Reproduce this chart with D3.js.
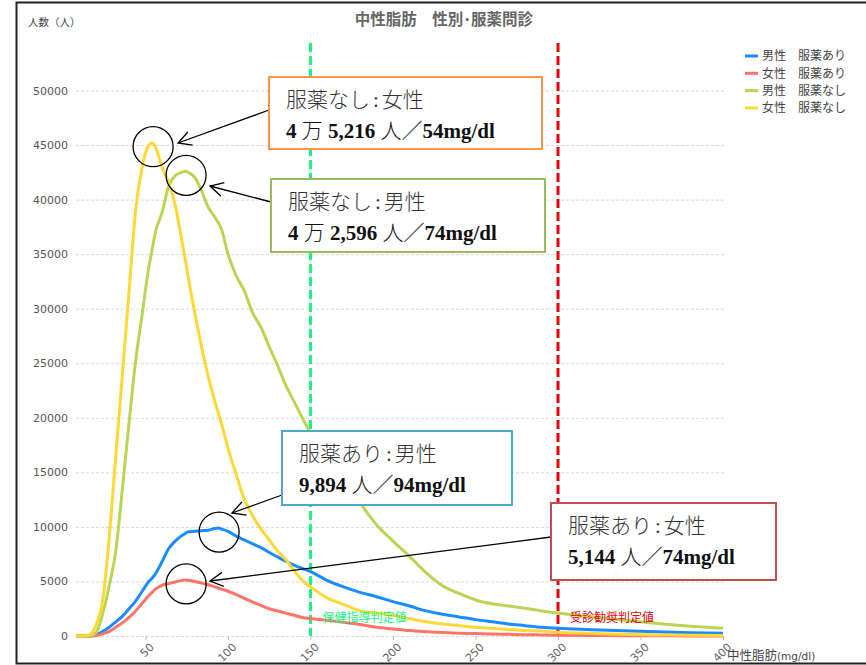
<!DOCTYPE html>
<html>
<head>
<meta charset="utf-8">
<script src="https://cdn.jsdelivr.net/npm/d3@7"></script>
<style>
  body { margin: 0; background: #fff; }
  svg { display: block; }
</style>
</head>
<body>
<div id="container"></div>
<script>
/* DATA */
// 中性脂肪 (mg/dl)
const tg = [8, 12, 16, 20, 24, 28, 32, 36, 40, 44, 48, 52, 54, 56, 60, 64, 68, 72, 74, 76,
  80, 84, 88, 92, 94, 96, 100, 105, 110, 115, 120, 125, 130, 135, 140, 145, 150,
  160, 170, 180, 190, 200, 210, 220, 230, 240, 250, 260, 270, 280, 290, 300,
  320, 340, 360, 380, 400];

// 人数 (人)
const maleMed = [0, 0, 0, 100, 400, 800, 1300, 1800, 2500, 3200, 4100, 5000, 5300, 5700, 6800, 8000, 8700, 9200, 9400, 9550,
  9600, 9650, 9700, 9850, 9894, 9800, 9600, 9150, 8800, 8450, 8100, 7650, 7250, 6850, 6500, 6200, 5900,
  5100, 4500, 4000, 3600, 3150, 2750, 2300, 2000, 1750, 1500, 1300, 1100, 950, 800, 700,
  580, 470, 380, 300, 250];

const femaleMed = [0, 0, 0, 50, 200, 400, 800, 1200, 1700, 2300, 3000, 3700, 4000, 4300, 4650, 4800, 4950, 5100, 5144, 5100,
  5000, 4850, 4700, 4500, 4400, 4300, 4100, 3800, 3450, 3100, 2800, 2500, 2300, 2100, 1900, 1700, 1600,
  1450, 1250, 1050, 800, 650, 500, 400, 320, 260, 220, 180, 150, 120, 100, 80,
  50, 30, 20, 10, 0];

const maleNoMed = [0, 0, 0, 300, 2000, 4600, 7800, 13500, 19500, 25200, 29500, 33800, 35400, 37000, 38800, 41200, 42200, 42500, 42596, 42500,
  42000, 40800, 39300, 38400, 37900, 37300, 35000, 33000, 31600, 29600, 28300, 26500, 24800, 23000, 21500, 20000, 18600,
  16400, 14400, 12200, 10200, 8700, 7300, 5800, 4600, 3900, 3300, 2950, 2750, 2550, 2300, 2100,
  1750, 1450, 1150, 900, 700];

const femaleNoMed = [0, 0, 100, 1000, 3200, 9000, 16500, 24000, 31500, 39000, 43000, 45000, 45216, 44800, 43000, 41600, 39500, 36300, 34600, 32800,
  29500, 26500, 23800, 21500, 20500, 19500, 17200, 14800, 12500, 11000, 9800, 8800, 7800, 7000, 6000, 5100, 4500,
  3500, 2900, 2300, 2100, 1900, 1600, 1300, 1100, 950, 800, 700, 600, 500, 450, 350,
  250, 150, 100, 80, 50];

const seriesNames = ["男性　服薬あり", "女性　服薬あり", "男性　服薬なし", "女性　服薬なし"];
const seriesValues = [maleMed, femaleMed, maleNoMed, femaleNoMed];

const yTicks = [0, 5000, 10000, 15000, 20000, 25000, 30000, 35000, 40000, 45000, 50000];
const xTicks = [50, 100, 150, 200, 250, 300, 350, 400];

const refValues = [150, 300];
const refLabels = ["保健指導判定値", "受診勧奨判定値"];

const calloutTitles = ["服薬なし:女性", "服薬なし:男性", "服薬あり:男性", "服薬あり:女性"];
const calloutTexts = ["4 万 5,216 人／54mg/dl", "4 万 2,596 人／74mg/dl", "9,894 人／94mg/dl", "5,144 人／74mg/dl"];
const calloutPeaks = [[54, 45216], [74, 42596], [94, 9894], [74, 5144]];

/* LAYOUT AND STYLES */
const width = 866, height = 665;
const colors = ["#1a8cff", "#ff7466", "#b8d654", "#ffd835"];
const refColors = ["#19f57f", "#e8000b"];
const boxColors = ["#f79646", "#9bbb59", "#4bacc6", "#c0504d"];
// callout boxes [x, y, w, h] and arrow start / end
const boxes = [[269, 77, 273, 72], [271, 179, 274, 73], [282, 431, 230, 74], [551, 503, 225, 77]];
const arrowFrom = [[269, 110], [271, 202], [282, 495], [551, 537]];
const arrowTo = [[178, 143], [210, 186], [232, 513], [210, 581]];

const xScale = d3.scaleLinear().domain([0, 400]).range([63, 723]);
const yScale = d3.scaleLinear().domain([0, 50000]).range([636, 90.5]);

const svg = d3.select("#container")
  .append("svg")
  .attr("width", width)
  .attr("height", height);

// frame
svg.append("rect")
  .attr("x", 16.5).attr("y", 2.5)
  .attr("width", 880).attr("height", 661)
  .attr("fill", "none")
  .attr("stroke", "#222")
  .attr("stroke-width", 2);

// title
svg.append("text")
  .attr("x", 444).attr("y", 25)
  .attr("text-anchor", "middle")
  .attr("fill", "#666")
  .style("font", "bold 15.5px 'Noto Sans CJK JP'")
  .text("中性脂肪　性別･服薬問診");

svg.append("text")
  .attr("x", 28).attr("y", 26)
  .attr("fill", "#444")
  .style("font", "10.5px 'Noto Sans CJK JP'")
  .text("人数（人）");

// y axis + grid
const gy = svg.append("g")
  .attr("transform", "translate(76,0)")
  .call(d3.axisLeft(yScale).tickValues(yTicks).tickSize(-648).tickPadding(8).tickFormat(d3.format("d")));
gy.select(".domain").remove();
gy.selectAll(".tick line")
  .attr("stroke", "#d9d9d9")
  .attr("stroke-dasharray", "3,2");
gy.selectAll(".tick text")
  .attr("fill", "#555")
  .style("font", "11px 'DejaVu Sans'");

// x axis
const gx = svg.append("g")
  .attr("transform", "translate(0,636)")
  .call(d3.axisBottom(xScale).tickValues(xTicks).tickSize(4));
gx.select(".domain").remove();
gx.selectAll(".tick line").attr("stroke", "#bbb");
gx.selectAll(".tick text")
  .attr("x", 0).attr("y", 0)
  .attr("dy", "0.35em")
  .attr("text-anchor", "end")
  .attr("transform", "translate(6,9) rotate(-45)")
  .attr("fill", "#666")
  .style("font", "11px 'DejaVu Sans'");

const xLabel = svg.append("text")
  .attr("x", 727).attr("y", 660)
  .attr("fill", "#444");
xLabel.append("tspan").style("font", "12.5px 'Noto Sans CJK JP'").text("中性脂肪");
xLabel.append("tspan").style("font", "10.5px 'DejaVu Sans'").text("(mg/dl)");

// reference lines
svg.selectAll(".refLine")
  .data(refValues)
  .join("line")
  .attr("class", "refLine")
  .attr("x1", d => xScale(d)).attr("x2", d => xScale(d))
  .attr("y1", 43).attr("y2", 636)
  .attr("stroke", (d, i) => refColors[i])
  .attr("stroke-width", 3)
  .attr("stroke-dasharray", "9,4");

// lines
const line = d3.line()
  .x((d, i) => xScale(tg[i]))
  .y(d => yScale(d))
  .curve(d3.curveMonotoneX);

svg.selectAll(".series")
  .data(seriesValues)
  .join("path")
  .attr("class", "series")
  .attr("d", line)
  .attr("fill", "none")
  .attr("stroke", (d, i) => colors[i])
  .attr("stroke-width", 3)
  .attr("stroke-linejoin", "round");

// reference labels
svg.selectAll(".refLabel")
  .data(refValues)
  .join("text")
  .attr("class", "refLabel")
  .attr("x", d => xScale(d) + 12)
  .attr("y", 622)
  .attr("fill", (d, i) => refColors[i])
  .style("font", "12px 'Noto Sans CJK JP'")
  .text((d, i) => refLabels[i]);

// legend
const legend = svg.append("g")
  .selectAll("g")
  .data(seriesNames)
  .join("g")
  .attr("transform", (d, i) => `translate(745,${56 + i * 17.3})`);
legend.append("line")
  .attr("x1", 0).attr("x2", 13)
  .attr("stroke", (d, i) => colors[i])
  .attr("stroke-width", 3);
legend.append("text")
  .attr("x", 17).attr("dy", "0.35em")
  .attr("fill", "#444")
  .style("font", "12px 'Noto Sans CJK JP'")
  .text(d => d);

// callouts
svg.append("defs").append("marker")
  .attr("id", "arrow")
  .attr("viewBox", "-15 -9 17 18")
  .attr("markerUnits", "userSpaceOnUse")
  .attr("markerWidth", 17).attr("markerHeight", 18)
  .attr("refX", 0).attr("refY", 0)
  .attr("orient", "auto")
  .append("path")
  .attr("d", "M-13,-7L0,0L-13,7")
  .attr("fill", "none")
  .attr("stroke", "#000")
  .attr("stroke-width", 1.3);

svg.selectAll(".peakCircle")
  .data(calloutPeaks)
  .join("circle")
  .attr("class", "peakCircle")
  .attr("cx", d => xScale(d[0]) + 1)
  .attr("cy", d => yScale(d[1]) + 4)
  .attr("r", 20)
  .attr("fill", "none")
  .attr("stroke", "#000")
  .attr("stroke-width", 1.3);

svg.selectAll(".arrow")
  .data(arrowFrom)
  .join("line")
  .attr("class", "arrow")
  .attr("x1", d => d[0]).attr("y1", d => d[1])
  .attr("x2", (d, i) => arrowTo[i][0]).attr("y2", (d, i) => arrowTo[i][1])
  .attr("stroke", "#000")
  .attr("stroke-width", 1.3)
  .attr("marker-end", "url(#arrow)");

const box = svg.selectAll(".callout")
  .data(calloutTitles)
  .join("g")
  .attr("class", "callout")
  .attr("transform", (d, i) => `translate(${boxes[i][0]},${boxes[i][1]})`);
box.append("rect")
  .attr("width", (d, i) => boxes[i][2])
  .attr("height", (d, i) => boxes[i][3])
  .attr("fill", "#fff")
  .attr("stroke", (d, i) => boxColors[i])
  .attr("stroke-width", 2);
box.append("text")
  .attr("x", 17).attr("y", 30)
  .attr("fill", "#333")
  .style("font", "300 21px 'Liberation Serif', 'Noto Sans CJK JP'")
  .each(function(d) {
    // a little air round the colon
    const parts = d.split(":");
    const t = d3.select(this);
    t.append("tspan").text(parts[0]);
    t.append("tspan").attr("dx", 3).text(":");
    t.append("tspan").attr("dx", 3).text(parts[1]);
  });
box.append("text")
  .attr("x", 17).attr("y", 61)
  .attr("fill", "#111")
  .style("font", "21px 'Liberation Serif', 'Noto Sans CJK JP'")
  .each(function(d, i) {
    // latin runs bold, kanji runs light
    const runs = calloutTexts[i].match(/[\x00-\x7f]+|[^\x00-\x7f]+/g);
    d3.select(this).selectAll("tspan")
      .data(runs)
      .join("tspan")
      .attr("font-weight", r => /[\x00-\x7f]/.test(r) ? "bold" : "300")
      .text(r => r);
  });
</script>
</body>
</html>
